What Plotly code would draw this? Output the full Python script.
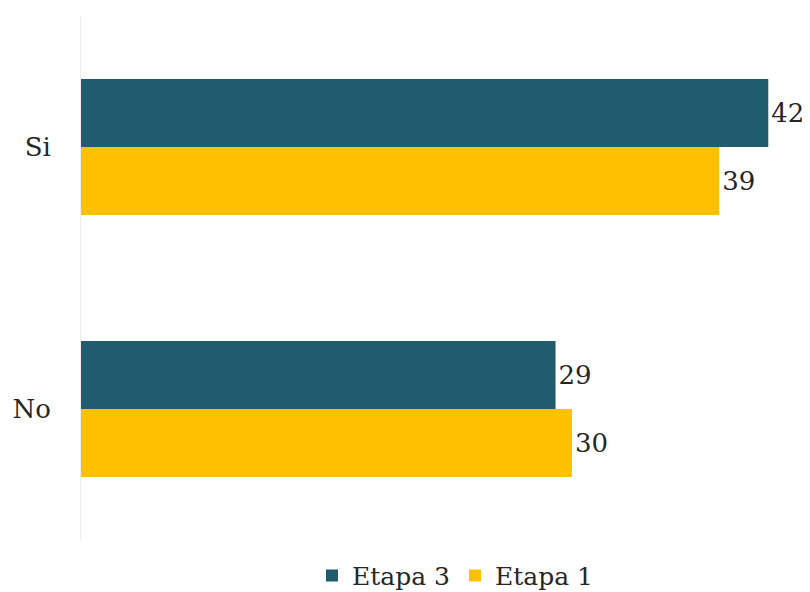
import plotly.graph_objects as go

categories = ["No", "Si"]
etapa3 = [29, 42]
etapa1 = [30, 39]

FONT = "DejaVu Serif"
TXT = "#262626"
SIZE = 26
fig = go.Figure()
fig.add_trace(go.Bar(
    y=categories, x=etapa1, name="Etapa 1", orientation="h",
    marker=dict(color="#FFC000", line=dict(width=0)),
    text=etapa1, textposition="outside", cliponaxis=False,
    textfont=dict(family=FONT, size=SIZE, color=TXT),
))
fig.add_trace(go.Bar(
    y=categories, x=etapa3, name="Etapa 3", orientation="h",
    marker=dict(color="#1F5C6E", line=dict(width=0)),
    text=etapa3, textposition="outside", cliponaxis=False,
    textfont=dict(family=FONT, size=SIZE, color=TXT),
))
# page body has an 8px default margin; figure is sized to fit the 810x592 window
fig.update_layout(
    width=802, height=584,
    margin=dict(l=73, r=0, t=8, b=52, autoexpand=False),
    paper_bgcolor="white", plot_bgcolor="white",
    barmode="group", bargap=0.48, bargroupgap=0,
    font=dict(family=FONT, size=SIZE, color=TXT),
    showlegend=True,
    legend=dict(orientation="h", traceorder="reversed", x=0.513, xanchor="center",
                y=-0.068, yanchor="middle", font=dict(family=FONT, size=25, color=TXT),
                itemwidth=30, tracegroupgap=0),
    xaxis=dict(range=[0, 44.55], showgrid=False, zeroline=False, showline=False,
               showticklabels=False, ticks="", automargin=False),
    yaxis=dict(categoryorder="array", categoryarray=categories, showgrid=False,
               zeroline=False, showline=True, linecolor="#EEEEEE", linewidth=1,
               ticks="", ticklabelstandoff=24, automargin=False,
               tickfont=dict(family=FONT, size=SIZE, color=TXT)),
)
fig.write_html("out.html")
